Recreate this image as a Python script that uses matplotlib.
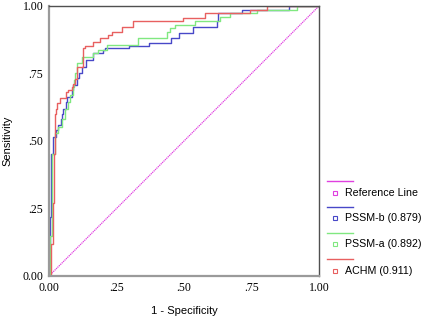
import matplotlib
matplotlib.use('Agg')
import matplotlib.pyplot as plt
from matplotlib.lines import Line2D

# ROC step points: (1 - specificity, sensitivity) where each jump happens
achm_fpr = [0, 0.007, 0.015, 0.019, 0.022, 0.026, 0.03, 0.041, 0.063, 0.07, 0.085, 0.089,
            0.096, 0.104, 0.126, 0.133, 0.163, 0.189, 0.218, 0.232, 0.27, 0.312, 0.496,
            0.578, 0.744, 0.807, 1.0]
achm_tpr = [0, 0.12, 0.27, 0.45, 0.6, 0.62, 0.64, 0.66, 0.68, 0.69, 0.70, 0.71,
            0.73, 0.775, 0.843, 0.85, 0.868, 0.88, 0.893, 0.905, 0.923, 0.944, 0.955,
            0.973, 0.985, 1.0, 1.0]

pssmb_fpr = [0, 0.0, 0.004, 0.007, 0.015, 0.026, 0.033, 0.044, 0.048, 0.052, 0.063, 0.067,
             0.085, 0.089, 0.104, 0.111, 0.121, 0.136, 0.164, 0.2, 0.207, 0.296, 0.37,
             0.451, 0.482, 0.533, 0.622, 0.626, 0.715, 0.889, 1.0]
pssmb_tpr = [0, 0.08, 0.22, 0.45, 0.515, 0.54, 0.56, 0.58, 0.6, 0.62, 0.645, 0.664,
             0.69, 0.707, 0.733, 0.75, 0.775, 0.80, 0.825, 0.837, 0.843, 0.85, 0.862,
             0.88, 0.90, 0.923, 0.944, 0.973, 0.985, 1.0, 1.0]

pssma_fpr = [0, 0.004, 0.011, 0.022, 0.033, 0.048, 0.059, 0.07, 0.078, 0.089, 0.093, 0.096,
             0.104, 0.121, 0.164, 0.183, 0.214, 0.331, 0.436, 0.448, 0.467, 0.541, 0.633,
             0.67, 0.77, 0.918, 1.0]
pssma_tpr = [0, 0.15, 0.45, 0.53, 0.55, 0.58, 0.62, 0.645, 0.67, 0.70, 0.726, 0.75,
             0.79, 0.812, 0.825, 0.837, 0.855, 0.88, 0.905, 0.918, 0.93, 0.944, 0.96,
             0.973, 0.985, 1.0, 1.0]

ref_x = [0, 1]
ref_y = [0, 1]

ticks = [0, 0.25, 0.5, 0.75, 1.0]
tick_labels = ['0.00', '.25', '.50', '.75', '1.00']

names = ['Reference Line', 'PSSM-b (0.879)', 'PSSM-a (0.892)', 'ACHM (0.911)']
colors = ['#e040e0', '#4848c8', '#80e880', '#e86060']

fig = plt.figure(figsize=(4.25, 3.27), dpi=100)
ax = fig.add_axes([49 / 425, 51 / 327, 270 / 425, 270 / 327])

ax.plot(ref_x, ref_y, color=colors[0], lw=0.9, ls=(0, (1, 0.6)))
ax.plot(pssmb_fpr, pssmb_tpr, drawstyle='steps-post', color=colors[1], lw=1.0)
ax.plot(pssma_fpr, pssma_tpr, drawstyle='steps-post', color=colors[2], lw=1.0)
ax.plot(achm_fpr, achm_tpr, drawstyle='steps-post', color=colors[3], lw=1.0)

ax.set_xlim(0, 1)
ax.set_ylim(0, 1)
ax.set_xticks(ticks)
ax.set_yticks(ticks)
ax.set_xticklabels(tick_labels, family='Liberation Serif', fontsize=8.5)
ax.set_yticklabels(tick_labels, family='Liberation Serif', fontsize=8.5)
ax.tick_params(length=0, pad=4)

for s in ['left', 'bottom']:
    ax.spines[s].set_color('#9a9a9a')
    ax.spines[s].set_linewidth(1.6)
for s in ['top', 'right']:
    ax.spines[s].set_color('#505050')
    ax.spines[s].set_linewidth(1.0)

ax.set_xlabel('1 - Specificity', family='Liberation Sans', fontsize=8, labelpad=9)
ax.set_ylabel('Sensitivity', family='Liberation Sans', fontsize=8, labelpad=7)

# legend drawn by hand: a line row, then a marker + label row
W, H = 425.0, 327.0
line_y = [181, 207, 233, 259]
text_y = [193, 218, 244, 271]
for i in range(4):
    fig.add_artist(Line2D([327 / W, 353 / W], [1 - line_y[i] / H] * 2,
                          color=colors[i], lw=1.0))
    fig.add_artist(Line2D([335 / W], [1 - text_y[i] / H], marker='s', ms=3.3,
                          mfc='none', mec=colors[i], mew=0.8, ls='none'))
    fig.text(345 / W, 1 - text_y[i] / H, names[i], family='Liberation Sans',
             fontsize=7.7, va='center', ha='left')

fig.savefig('out.png', dpi=100)
